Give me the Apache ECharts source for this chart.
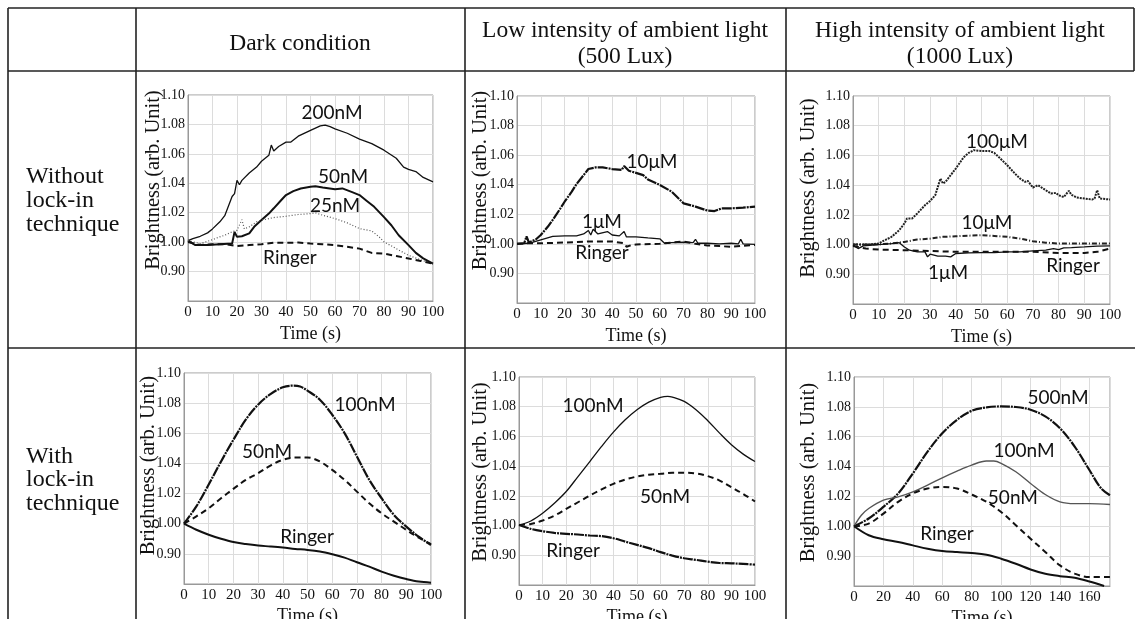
<!DOCTYPE html>
<html><head><meta charset="utf-8">
<script src="https://cdn.jsdelivr.net/npm/echarts@6/dist/echarts.min.js"></script>
<style>html,body{margin:0;padding:0;background:#fff}#c{width:1135px;height:619px}</style>
</head><body><div id="c"></div>
<script>
// ---------- text ----------
const columnHeaders = [['Dark condition'], ['Low intensity of ambient light', '(500 Lux)'], ['High intensity of ambient light', '(1000 Lux)']];
const rowHeaders = [['Without', 'lock-in', 'technique'], ['With', 'lock-in', 'technique']];
const xAxisName = 'Time (s)';
const yAxisName = 'Brightness (arb. Unit)';
// tick labels for y positions 0.96,0.98,1.00,...,1.10 (as printed in the figure)
const yTickLabels = ['', '0.90', '1.00', '1.02', '1.04', '1.06', '1.08', '1.10'];

// ---------- data: [time, brightness-position] ----------
// Panel 1: dark, without lock-in
const darkOff_200nM = [[0,1.001],[2,1.0024],[5,1.004],[8,1.0063],[10,1.009],[13,1.0138],[15,1.018],[18,1.031],[19,1.033],[20,1.042],[21,1.039],[22,1.042],[25,1.047],[28,1.051],[30,1.055],[33,1.059],[34,1.066],[35,1.062],[37,1.065],[40,1.068],[42,1.068],[45,1.072],[50,1.076],[54,1.079],[56,1.0796],[58,1.0785],[60,1.077],[65,1.074],[70,1.070],[75,1.067],[80,1.0625],[85,1.057],[88,1.051],[90,1.0494],[93,1.048],[96,1.044],[100,1.041]];
const darkOff_50nM = [[0,1.001],[3,0.998],[8,0.998],[13,0.9985],[18,0.999],[19,1.007],[20,1.0036],[22,1.004],[25,1.006],[27,1.0104],[30,1.015],[33,1.0194],[35,1.023],[38,1.0285],[40,1.032],[43,1.0347],[46,1.0365],[50,1.0376],[52,1.038],[55,1.0372],[60,1.036],[63,1.0365],[67,1.034],[70,1.032],[73,1.028],[76,1.024],[80,1.017],[83,1.0115],[86,1.0047],[90,0.998],[93,0.9927],[96,0.989],[100,0.9854]];
const darkOff_25nM = [[0,1.001],[5,0.999],[10,1.0017],[13,1.0036],[15,1.0047],[18,1.007],[20,1.008],[22,1.0153],[23,1.009],[25,1.0104],[28,1.0138],[30,1.0149],[35,1.0167],[40,1.0176],[45,1.0188],[50,1.0194],[52,1.0199],[55,1.0183],[60,1.016],[65,1.0131],[70,1.0092],[75,1.0076],[78,1.0036],[80,1.0002],[85,0.9956],[90,0.991],[95,0.988],[100,0.985]];
const darkOff_ringer = [[0,1.0],[5,0.998],[10,0.9986],[15,0.9986],[20,0.9974],[25,0.998],[30,0.9986],[35,0.9997],[40,0.9995],[45,0.9997],[50,0.999],[55,0.9986],[60,0.998],[65,0.9968],[70,0.9956],[75,0.9927],[80,0.9922],[85,0.9906],[90,0.9889],[95,0.9872],[100,0.9854]];

// Panel 2: low light, without lock-in
const lowOff_10uM = [[0,1.0],[3,1.0004],[4,1.005],[5,1.0009],[8,1.0031],[10,1.006],[13,1.0117],[15,1.0162],[18,1.0234],[20,1.0285],[23,1.0353],[25,1.0404],[28,1.0465],[30,1.0506],[33,1.0517],[36,1.0517],[40,1.0506],[44,1.05],[45,1.0526],[47,1.0494],[50,1.048],[53,1.0465],[55,1.0436],[60,1.0398],[65,1.0353],[70,1.0274],[75,1.0252],[80,1.0225],[83,1.0222],[86,1.024],[90,1.024],[95,1.0245],[100,1.0252]];
const lowOff_1uM = [[0,1.0],[5,1.0004],[10,1.0027],[15,1.005],[20,1.0054],[25,1.0054],[28,1.0067],[30,1.009],[31,1.006],[32,1.0099],[34,1.0067],[38,1.0083],[40,1.006],[43,1.0054],[45,1.0083],[46,1.0047],[50,1.0047],[55,1.004],[60,1.0034],[62,1.0004],[65,1.0009],[70,1.0011],[74,1.0009],[75,1.0031],[76,1.0004],[80,1.0004],[85,1.0],[90,1.0004],[93,1.0],[94,1.0031],[95,1.0],[100,0.9996]];
const lowOff_ringer = [[0,1.0],[5,1.0004],[10,1.0004],[20,1.0009],[30,1.0016],[40,1.0016],[45,1.0004],[46,0.998],[48,0.9991],[50,0.9996],[60,1.0],[65,1.0009],[70,1.0016],[75,1.0],[80,0.9989],[85,0.9985],[90,0.998],[95,0.9987],[100,0.9993]];

// Panel 3: high light, without lock-in
const highOff_100uM = [[0,1.0],[5,1.0],[10,1.0007],[12,1.0026],[15,1.0052],[18,1.0097],[20,1.0142],[21,1.0176],[23,1.0176],[25,1.0209],[28,1.0265],[30,1.0294],[32,1.0332],[34,1.0444],[35,1.0411],[36,1.0422],[38,1.0467],[40,1.0512],[43,1.0586],[45,1.0617],[47,1.0635],[50,1.063],[53,1.063],[55,1.0617],[58,1.0568],[60,1.0534],[63,1.0478],[65,1.0444],[67,1.0422],[68,1.0429],[70,1.0384],[72,1.04],[74,1.0377],[77,1.0344],[79,1.0348],[80,1.0332],[82,1.032],[84,1.0362],[85,1.0335],[87,1.0317],[90,1.031],[93,1.0303],[94,1.031],[95,1.0366],[96,1.031],[100,1.0303]];
const highOff_10uM = [[0,1.0],[5,1.0],[10,1.0002],[15,1.0007],[20,1.0018],[25,1.0034],[30,1.004],[35,1.0052],[40,1.0056],[45,1.006],[50,1.0063],[55,1.0058],[60,1.0052],[65,1.004],[70,1.0022],[75,1.0013],[80,1.0007],[90,1.0007],[100,1.0007]];
const highOff_1uM = [[0,0.9996],[2,0.9973],[4,0.9991],[10,1.0],[15,1.0007],[18,1.0013],[20,0.9984],[22,0.9962],[25,0.9951],[28,0.9951],[29,0.9917],[30,0.9935],[33,0.9922],[36,0.9922],[38,0.9917],[40,0.994],[45,0.9944],[50,0.9946],[55,0.9946],[60,0.9951],[65,0.9951],[70,0.9957],[75,0.9962],[78,0.9973],[80,0.9966],[82,0.9978],[85,0.998],[90,0.9984],[95,0.9989],[100,0.9991]];
const highOff_ringer = [[0,0.9991],[5,0.9973],[10,0.9966],[20,0.9962],[30,0.9957],[40,0.9951],[50,0.9951],[60,0.9951],[70,0.9951],[80,0.9944],[90,0.9944],[95,0.9951],[100,0.9973]];

// Panel 4: dark, with lock-in
const darkOn_100nM = [[0,1.0],[5,1.0115],[10,1.026],[15,1.0413],[20,1.0557],[25,1.069],[30,1.079],[35,1.086],[40,1.0905],[44,1.0916],[47,1.091],[50,1.0883],[55,1.0823],[60,1.0723],[65,1.0601],[70,1.0446],[75,1.0291],[80,1.0169],[85,1.0058],[90,0.9981],[95,0.9914],[100,0.9859]];
const darkOn_50nM = [[0,1.0],[5,1.0049],[10,1.0103],[15,1.0169],[20,1.0231],[25,1.0291],[30,1.0335],[35,1.0386],[40,1.0424],[45,1.0439],[50,1.0439],[55,1.0413],[60,1.0357],[65,1.0291],[70,1.0213],[75,1.0136],[80,1.0069],[85,1.0014],[90,0.9959],[95,0.9908],[100,0.9864]];
const darkOn_ringer = [[0,1.0],[5,0.996],[10,0.9927],[15,0.99],[20,0.9878],[25,0.9865],[30,0.9855],[35,0.9849],[40,0.9842],[45,0.9833],[50,0.9826],[55,0.9815],[60,0.9797],[65,0.9775],[70,0.9744],[75,0.9715],[80,0.9682],[85,0.9655],[90,0.9633],[95,0.9616],[100,0.9609]];

// Panel 5: low light, with lock-in
const lowOn_100nM = [[0,1.0004],[5,1.0031],[10,1.0083],[15,1.015],[20,1.0229],[25,1.033],[30,1.0431],[35,1.0533],[40,1.0629],[45,1.0712],[50,1.078],[55,1.0831],[60,1.0863],[63,1.087],[65,1.0865],[70,1.0836],[75,1.078],[80,1.0706],[85,1.0622],[90,1.0544],[95,1.0481],[100,1.0431]];
const lowOn_50nM = [[0,1.0004],[5,1.0011],[10,1.0034],[15,1.0067],[20,1.0112],[25,1.0157],[30,1.0202],[35,1.0243],[40,1.0281],[45,1.031],[50,1.033],[55,1.0342],[60,1.0348],[65,1.0355],[70,1.0355],[75,1.0351],[80,1.0333],[85,1.0303],[90,1.0258],[95,1.0213],[100,1.0162]];
const lowOn_ringer = [[0,1.0004],[5,0.9978],[10,0.9962],[15,0.9951],[20,0.9944],[25,0.994],[30,0.9933],[35,0.9929],[40,0.9915],[45,0.9892],[50,0.987],[55,0.9848],[60,0.9821],[65,0.9798],[70,0.978],[75,0.9769],[80,0.9757],[85,0.9748],[90,0.9746],[95,0.9742],[100,0.9737]];

// Panel 6: high light, with lock-in
const highOn_500nM = [[0,1.0],[10,1.0052],[20,1.013],[30,1.022],[40,1.0354],[50,1.05],[60,1.0623],[70,1.0713],[80,1.0774],[90,1.0796],[100,1.0803],[110,1.0799],[120,1.0781],[130,1.0736],[140,1.0657],[150,1.0534],[160,1.0377],[168,1.0253],[174,1.0208]];
const highOn_100nM = [[0,1.0],[5,1.0074],[10,1.0119],[20,1.0175],[30,1.0197],[40,1.0231],[50,1.0276],[60,1.0325],[70,1.037],[80,1.041],[90,1.0437],[95,1.0437],[100,1.0422],[110,1.0365],[120,1.0287],[130,1.0213],[140,1.0164],[150,1.0152],[160,1.0152],[174,1.0146]];
const highOn_50nM = [[0,1.0],[10,1.0018],[20,1.0085],[30,1.0164],[40,1.022],[50,1.0253],[60,1.0264],[70,1.0253],[80,1.0213],[90,1.0164],[100,1.0096],[110,1.0007],[120,0.9917],[130,0.9828],[140,0.9738],[150,0.9683],[160,0.966],[174,0.966]];
const highOn_ringer = [[0,1.0],[10,0.994],[20,0.9913],[30,0.9895],[40,0.9872],[50,0.985],[60,0.9834],[70,0.9827],[80,0.9821],[90,0.981],[100,0.9783],[110,0.9749],[120,0.9711],[130,0.9682],[140,0.9666],[150,0.9655],[160,0.963],[170,0.96]];

// curve name labels: [text, time, brightness-position]
const labels1 = [['200nM',58.8,1.0878],['50nM',63.3,1.0443],['25nM',60,1.0245],['Ringer',41.6,0.9892]];
const labels2 = [['10\u03bcM',56.7,1.0554],['1\u03bcM',35.7,1.0148],['Ringer',35.7,0.9938]];
const labels3 = [['100\u03bcM',56,1.069],['10\u03bcM',52.1,1.0145],['1\u03bcM',37,0.9809],['Ringer',85.6,0.9856]];
const labels4 = [['100nM',73.3,1.0788],['50nM',33.6,1.0476],['Ringer',49.8,0.9912]];
const labels5 = [['100nM',31.4,1.0805],['50nM',61.9,1.0192],['Ringer',22.9,0.9829]];
const labels6 = [['500nM',138.7,1.0859],['100nM',115.6,1.0504],['50nM',108,1.019],['Ringer',63.2,0.9948]];

// ---------- layout ----------
const SERIF = 'Liberation Serif';
const SANS = 'Lato';
const grids = [
  {left:188, top:95, width:245, height:206},
  {left:517, top:96, width:238, height:207},
  {left:853, top:96, width:257, height:208},
  {left:184, top:373, width:247, height:211},
  {left:519, top:377, width:236, height:208},
  {left:854, top:377, width:256, height:209}
];
const xMax = [100,100,100,100,100,174];
const yNameGap = [24,26,34,25,28,35];
const yNameShift = [36,38,24,26,18,18];

const styles = {
  solidThin: {type:'solid', width:1.3, color:'#111'},
  solidThick: {type:'solid', width:2, color:'#111'},
  solidGray: {type:'solid', width:1.4, color:'#555'},
  dashed: {type:[6,4], width:2, color:'#111'},
  dotted: {type:[1,2], width:1.2, color:'#555'},
  dotDense: {type:[2,1], width:2, color:'#222'},
  dashDot: {type:[5,2,1,2], width:2, color:'#222'},
  dashDotDense: {type:[10,1,2,1], width:2.2, color:'#111'}
};

const panels = [
  {series:[[darkOff_200nM,'solidThin',false],[darkOff_50nM,'solidThick',false],[darkOff_25nM,'dotted',false],[darkOff_ringer,'dashed',false]], labels:labels1},
  {series:[[lowOff_10uM,'dashDotDense',false],[lowOff_1uM,'solidThin',false],[lowOff_ringer,'dashed',false]], labels:labels2},
  {series:[[highOff_100uM,'dotDense',false],[highOff_10uM,'dashDot',false],[highOff_1uM,'solidThin',false],[highOff_ringer,'dashed',false]], labels:labels3},
  {series:[[darkOn_100nM,'dashDotDense',true],[darkOn_50nM,'dashed',true],[darkOn_ringer,'solidThick',true]], labels:labels4},
  {series:[[lowOn_100nM,'solidThin',true],[lowOn_50nM,'dashed',true],[lowOn_ringer,'dashDotDense',true]], labels:labels5},
  {series:[[highOn_500nM,'dashDotDense',true],[highOn_100nM,'solidGray',true],[highOn_50nM,'dashed',true],[highOn_ringer,'solidThick',true]], labels:labels6}
];

const xAxes = [], yAxes = [], series = [];
panels.forEach((p, i) => {
  xAxes.push({
    type:'value', gridIndex:i, min:0, max:xMax[i], interval: i===5 ? 20 : 10,
    name:xAxisName, nameLocation:'middle', nameGap: i < 3 ? 24 : 23, nameMoveOverlap:false,
    nameTextStyle:{fontFamily:SERIF, fontSize:18, color:'#111'},
    axisLine:{show:true, lineStyle:{color:'#999', width:1}},
    axisTick:{show:false},
    axisLabel:{fontFamily:SERIF, fontSize:15, color:'#111', margin:4, showMaxLabel: i!==5},
    splitLine:{show:true, lineStyle:{color:'#dcdcdc', width:1}}
  });
  yAxes.push({
    type:'value', gridIndex:i, min:0.96, max:1.10, interval:0.02,
    name:yAxisName, nameLocation:'middle', nameGap:yNameGap[i], nameMoveOverlap:false,
    nameTextStyle:{fontFamily:SERIF, fontSize:20.5, color:'#111', padding:[0,0,0,yNameShift[i]]},
    axisLine:{show:true, lineStyle:{color:'#999', width:1}},
    axisTick:{show:false},
    axisLabel:{fontFamily:SERIF, fontSize:14, color:'#111', margin:3,
      formatter: v => yTickLabels[Math.round((v - 0.96) / 0.02)] || ''},
    splitLine:{show:true, lineStyle:{color:'#dcdcdc', width:1}}
  });
  p.series.forEach(([data, st, smooth], k) => {
    const s = {
      type:'line', xAxisIndex:i, yAxisIndex:i, data:data, showSymbol:false, symbol:'none',
      smooth: smooth ? 0.35 : false, lineStyle:styles[st], silent:true, animation:false, z:3
    };
    if (k === 0) {
      s.markPoint = {
        symbol:'circle', symbolSize:0, silent:true, animation:false,
        label:{show:true, position:'inside', formatter: d => d.name, fontFamily:SANS, fontSize:19, color:'#111'},
        data: p.labels.map(([t, x, y]) => ({name:t, coord:[x, y]}))
      };
    }
    series.push(s);
  });
});

// table lines and cell text
const lineStyle = {stroke:'#222', lineWidth:1.6};
const tableLines = [
  [8,8,1134,8],[8,71,1134,71],[8,348,1135,348],
  [8,8,8,619],[136,8,136,619],[465,8,465,619],[786,8,786,619],[1134,8,1134,71]
];
const graphic = tableLines.map(([x1,y1,x2,y2]) => ({type:'line', shape:{x1,y1,x2,y2}, style:lineStyle, silent:true, z:10}));
const headerCenters = [[300,[44]],[625,[31,57]],[960,[31,57]]];
columnHeaders.forEach((lines, i) => {
  lines.forEach((t, j) => graphic.push({type:'text', x:headerCenters[i][0], y:headerCenters[i][1][j],
    style:{text:t, font:'23.5px "' + SERIF + '"', fill:'#111', textAlign:'center', textVerticalAlign:'middle'}, silent:true}));
});
const rowY = [[177,201,225],[457,480,504]];
rowHeaders.forEach((lines, i) => {
  lines.forEach((t, j) => graphic.push({type:'text', x:26, y:rowY[i][j],
    style:{text:t, font:'24px "' + SERIF + '"', fill:'#111', textAlign:'left', textVerticalAlign:'middle'}, silent:true}));
});

const chart = echarts.init(document.getElementById('c'), null, {renderer:'canvas'});
chart.setOption({
  animation:false,
  grid: grids.map(g => Object.assign({show:true, borderColor:'#999', borderWidth:1, containLabel:false, outerBoundsMode:'none'}, g)),
  xAxis: xAxes, yAxis: yAxes, series: series, graphic: graphic
});
</script></body></html>
